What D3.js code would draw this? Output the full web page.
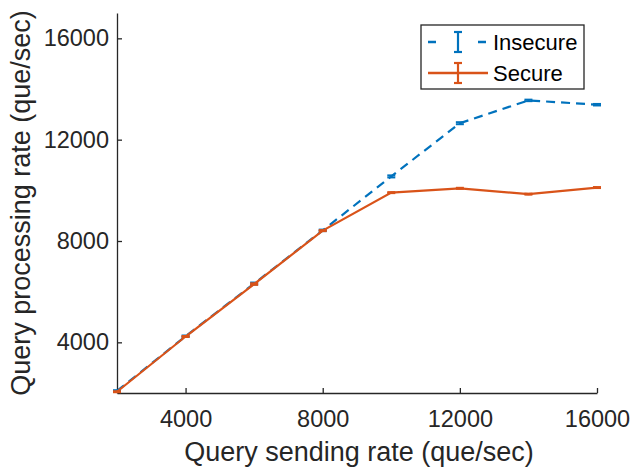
<!DOCTYPE html>
<html><head><meta charset="utf-8">
<script src="https://cdn.jsdelivr.net/npm/d3@7"></script>
<style>body{margin:0;background:#fff}svg{display:block}text{font-family:"Liberation Sans",Arial,sans-serif}</style>
</head><body><svg id="c" width="630" height="473"></svg>
<script>
const sendRates = [2000, 4000, 6000, 8000, 10000, 12000, 14000, 16000];
const insecure = [2080, 4240, 6320, 8420, 10550, 12650, 13550, 13380];
const insecureErr = [30, 30, 40, 30, 40, 40, 30, 30];
const secure = [2050, 4230, 6300, 8410, 9910, 10080, 9850, 10110];
const secureErr = [20, 20, 30, 20, 20, 20, 20, 20];
const xTicks = [4000, 8000, 12000, 16000];
const yTicks = [4000, 8000, 12000, 16000];
const seriesNames = ["Insecure", "Secure"];

const svg = d3.select("#c");
const L = 117, R = 597, T = 13, B = 393;
const x = d3.scaleLinear().domain([2000, 16000]).range([L, R]);
const y = d3.scaleLinear().domain([2000, 17000]).range([B, T]);
const axisColor = "#262626";
const fs = 23.5;

const xa = svg.append("g").attr("transform", `translate(0,${B})`)
  .call(d3.axisBottom(x).tickValues(xTicks).tickSizeInner(-5).tickSizeOuter(0).tickPadding(17).tickFormat(d3.format("d")));
const ya = svg.append("g").attr("transform", `translate(${L},0)`)
  .call(d3.axisLeft(y).tickValues(yTicks).tickSizeInner(-5).tickSizeOuter(0).tickPadding(8).tickFormat(d3.format("d")));
[xa, ya].forEach(a => {
  a.select(".domain").attr("stroke", axisColor).attr("stroke-width", 1.3);
  a.selectAll(".tick line").attr("stroke", axisColor).attr("stroke-width", 1.3);
  a.selectAll(".tick text").attr("fill", axisColor).style("font-size", fs + "px").style("font-family", '"Liberation Sans",Arial,sans-serif');
});
xa.selectAll(".tick text").attr("dy", "0.71em");

svg.append("text").attr("x", 359).attr("y", 461).attr("text-anchor", "middle")
  .attr("fill", axisColor).style("font-size", "27px").text("Query sending rate (que/sec)");
svg.append("text").attr("transform", `translate(30,${(T + B) / 2}) rotate(-90)`).attr("text-anchor", "middle")
  .attr("fill", axisColor).style("font-size", "27px").text("Query processing rate (que/sec)");

const series = [
  {name: seriesNames[0], vals: insecure, err: insecureErr, color: "#0072BD", dash: "9,6"},
  {name: seriesNames[1], vals: secure, err: secureErr, color: "#D95319", dash: null}
];
const line = d3.line().x(d => x(d[0])).y(d => y(d[1]));
series.forEach(s => {
  const pts = sendRates.map((r, i) => [r, s.vals[i], s.err[i]]);
  const g = svg.append("g");
  g.append("path").attr("d", line(pts)).attr("fill", "none").attr("stroke", s.color)
    .attr("stroke-width", 2.2).attr("stroke-dasharray", s.dash);
  pts.forEach(p => {
    const cx = x(p[0]), y1 = y(p[1] - p[2]), y2 = y(p[1] + p[2]);
    g.append("line").attr("x1", cx).attr("x2", cx).attr("y1", y1).attr("y2", y2).attr("stroke", s.color).attr("stroke-width", 2);
    [y1, y2].forEach(yy => g.append("line").attr("x1", cx - 4).attr("x2", cx + 4).attr("y1", yy).attr("y2", yy).attr("stroke", s.color).attr("stroke-width", 2));
  });
});

// legend
const lg = svg.append("g");
lg.append("rect").attr("x", 421).attr("y", 25).attr("width", 163).attr("height", 64)
  .attr("fill", "#fff").attr("stroke", axisColor).attr("stroke-width", 1.3);
series.forEach((s, i) => {
  const yy = 42 + i * 31;
  lg.append("line").attr("x1", 428).attr("x2", 488).attr("y1", yy).attr("y2", yy)
    .attr("stroke", s.color).attr("stroke-width", 2.4).attr("stroke-dasharray", s.dash ? "8,42" : null);
  lg.append("line").attr("x1", 458).attr("x2", 458).attr("y1", yy - 10).attr("y2", yy + 10).attr("stroke", s.color).attr("stroke-width", 2.2);
  [yy - 10, yy + 10].forEach(v => lg.append("line").attr("x1", 454).attr("x2", 462).attr("y1", v).attr("y2", v).attr("stroke", s.color).attr("stroke-width", 2.2));
  lg.append("text").attr("x", 493).attr("y", yy).attr("dy", "0.35em").attr("fill", "#000")
    .style("font-size", "22px").text(s.name);
});
</script></body></html>
